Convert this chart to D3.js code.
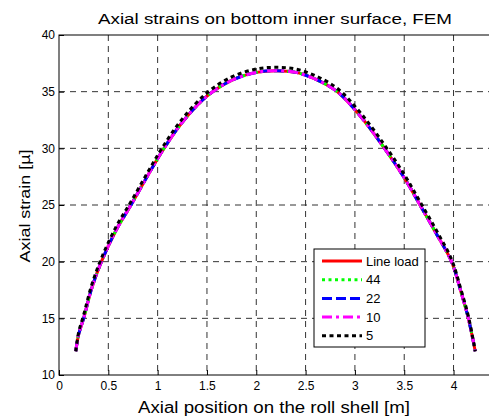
<!DOCTYPE html>
<html>
<head>
<meta charset="utf-8">
<script src="https://cdn.jsdelivr.net/npm/d3@7"></script>
<style>
  body { margin: 0; background: #fff; }
  text { font-family: "Liberation Sans", Arial, sans-serif; }
</style>
</head>
<body>
<div id="chart"></div>
<script>
var svgWidth = 489;
var svgHeight = 420;

// Data
var xPos = [0.17, 0.20, 0.25, 0.33, 0.43, 0.58, 0.73, 0.90, 1.05, 1.25, 1.50, 1.75, 2.00, 2.20, 2.40, 2.60, 2.82, 3.05, 3.30, 3.50, 3.66, 3.83, 3.98, 4.07, 4.15, 4.22];
var lineLoad = [12.1, 13.6, 15.0, 17.6, 20.0, 22.8, 25.0, 27.6, 29.8, 32.3, 34.6, 36.0, 36.7, 36.85, 36.7, 36.1, 35.0, 32.9, 30.0, 27.4, 25.0, 22.4, 20.0, 17.5, 15.0, 12.1];
var load44 = [12.1, 13.6, 15.0, 17.6, 20.0, 22.8, 25.0, 27.6, 29.8, 32.3, 34.6, 36.0, 36.7, 36.85, 36.7, 36.1, 35.0, 32.9, 30.0, 27.4, 25.0, 22.4, 20.0, 17.5, 15.0, 12.1];
var load22 = [12.1, 13.6, 15.0, 17.6, 20.0, 22.8, 25.0, 27.6, 29.8, 32.3, 34.6, 36.0, 36.7, 36.85, 36.7, 36.1, 35.0, 32.9, 30.0, 27.4, 25.0, 22.4, 20.0, 17.5, 15.0, 12.1];
var load10 = [12.1, 13.6, 15.0, 17.6, 20.0, 22.8, 25.0, 27.6, 29.8, 32.3, 34.6, 36.0, 36.7, 36.85, 36.7, 36.1, 35.0, 32.9, 30.0, 27.4, 25.0, 22.4, 20.0, 17.5, 15.0, 12.1];
var load5 = [12.1, 13.8, 15.3, 17.9, 20.3, 23.1, 25.3, 27.9, 30.1, 32.6, 34.9, 36.3, 37.0, 37.15, 37.0, 36.4, 35.3, 33.2, 30.3, 27.7, 25.3, 22.7, 20.2, 17.7, 15.2, 12.1];

var seriesNames = ["Line load", "44", "22", "10", "5"];
var seriesValues = [lineLoad, load44, load22, load10, load5];
var seriesColors = ["#ff0000", "#00ff00", "#0000ff", "#ff00ff", "#000000"];
var seriesDash = [null, "3,3.5", "10,4", "10,4,3,4", "4,3.5"];

var xTicks = [0, 0.5, 1, 1.5, 2, 2.5, 3, 3.5, 4];
var yTicks = [10, 15, 20, 25, 30, 35, 40];

var margin = { top: 35, right: -4, bottom: 45, left: 59 };
var width = svgWidth - margin.left - margin.right;
var height = svgHeight - margin.top - margin.bottom;

var svg = d3.select("#chart")
  .append("svg")
  .attr("width", svgWidth)
  .attr("height", svgHeight);

var chartGroup = svg.append("g")
  .attr("transform", `translate(${margin.left}, ${margin.top})`);

var xScale = d3.scaleLinear().domain([0, 4.4]).range([0, width]);
var yScale = d3.scaleLinear().domain([10, 40]).range([height, 0]);

// Grid lines
chartGroup.append("g")
  .selectAll("line")
  .data(xTicks.slice(1))
  .enter()
  .append("line")
  .attr("x1", d => xScale(d))
  .attr("x2", d => xScale(d))
  .attr("y1", 0)
  .attr("y2", height)
  .attr("stroke", "#333")
  .attr("stroke-dasharray", "6,5");

chartGroup.append("g")
  .selectAll("line")
  .data(yTicks.slice(1, -1))
  .enter()
  .append("line")
  .attr("y1", d => yScale(d))
  .attr("y2", d => yScale(d))
  .attr("x1", 0)
  .attr("x2", width)
  .attr("stroke", "#333")
  .attr("stroke-dasharray", "6,5");

// Axes (ticks pointing inward)
var bottomAxis = d3.axisBottom(xScale).tickValues(xTicks).tickSize(-5).tickPadding(6).tickFormat(d3.format("~g"));
var leftAxis = d3.axisLeft(yScale).tickValues(yTicks).tickSize(-5).tickPadding(4);

var xAxisG = chartGroup.append("g")
  .attr("transform", `translate(0, ${height})`)
  .call(bottomAxis);
var yAxisG = chartGroup.append("g").call(leftAxis);

[xAxisG, yAxisG].forEach(function(g) {
  g.select(".domain").remove();
  g.selectAll("line").attr("stroke", "#000");
  g.selectAll("text").attr("font-size", "12px").attr("fill", "#000")
    .style("font-family", "'Liberation Sans', Arial, sans-serif");
});

// Box
chartGroup.append("rect")
  .attr("x", 0)
  .attr("y", 0)
  .attr("width", width)
  .attr("height", height)
  .attr("fill", "none")
  .attr("stroke", "#000")
  .attr("stroke-width", 1);

// Lines
var line = d3.line()
  .x((d, i) => xScale(xPos[i]))
  .y(d => yScale(d))
  .curve(d3.curveCatmullRom);

seriesValues.forEach(function(vals, k) {
  chartGroup.append("path")
    .datum(vals)
    .attr("d", line)
    .attr("fill", "none")
    .attr("stroke", seriesColors[k])
    .attr("stroke-width", 3)
    .attr("stroke-dasharray", seriesDash[k]);
});

// Legend
var legend = svg.append("g").attr("transform", "translate(314, 249)");
legend.append("rect")
  .attr("width", 111)
  .attr("height", 98)
  .attr("fill", "#fff")
  .attr("stroke", "#000");

seriesNames.forEach(function(name, k) {
  var yy = 12 + k * 18.7;
  legend.append("line")
    .attr("x1", 8)
    .attr("x2", 48)
    .attr("y1", yy)
    .attr("y2", yy)
    .attr("stroke", seriesColors[k])
    .attr("stroke-width", 3)
    .attr("stroke-dasharray", seriesDash[k]);
  legend.append("text")
    .attr("x", 52)
    .attr("y", yy + 4.5)
    .attr("font-size", "13px")
    .text(name);
});

// Titles (the reference glyphs are a little wider than Arial)
svg.append("text")
  .attr("x", 275)
  .attr("y", 24)
  .attr("text-anchor", "middle")
  .attr("font-size", "15.5px")
  .attr("textLength", 354)
  .attr("lengthAdjust", "spacingAndGlyphs")
  .text("Axial strains on bottom inner surface, FEM");

svg.append("text")
  .attr("x", 274)
  .attr("y", 413)
  .attr("text-anchor", "middle")
  .attr("font-size", "16px")
  .attr("textLength", 272)
  .attr("lengthAdjust", "spacingAndGlyphs")
  .text("Axial position on the roll shell [m]");

svg.append("text")
  .attr("transform", "translate(30, 206) rotate(-90)")
  .attr("text-anchor", "middle")
  .attr("font-size", "15.5px")
  .attr("textLength", 113)
  .attr("lengthAdjust", "spacingAndGlyphs")
  .text("Axial strain [µ]");
</script>
</body>
</html>
